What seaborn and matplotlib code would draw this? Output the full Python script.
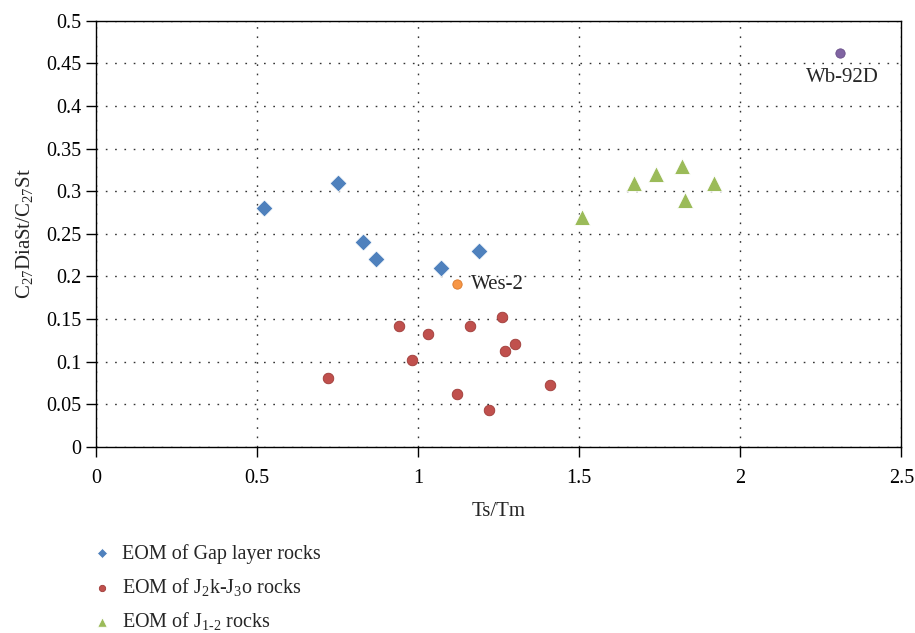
import matplotlib
matplotlib.use("Agg")
import matplotlib.pyplot as plt
import seaborn as sns
import pandas as pd

gap_x = [0.52, 0.75, 0.83, 0.87, 1.07, 1.19]
gap_y = [0.28, 0.31, 0.24, 0.221, 0.21, 0.23]
j2k_x = [0.72, 0.94, 0.98, 1.03, 1.12, 1.16, 1.22, 1.26, 1.27, 1.30, 1.41]
j2k_y = [0.081, 0.142, 0.102, 0.132, 0.062, 0.142, 0.043, 0.153, 0.113, 0.121, 0.073]
j12_x = [1.51, 1.67, 1.74, 1.82, 1.83, 1.92]
j12_y = [0.27, 0.31, 0.32, 0.33, 0.29, 0.31]
wes_x, wes_y = [1.12], [0.191]
wb_x, wb_y = [2.31], [0.462]

groups = ["EOM of Gap layer rocks",
          r"EOM of J$_{\mathregular{2}}$k-J$_{\mathregular{3}}$o rocks",
          r"EOM of J$_{\mathregular{1\text{-}2}}$ rocks"]

sns.set_theme(style="white")
plt.rcParams['font.family'] = ['Liberation Serif', 'DejaVu Serif']
plt.rcParams['mathtext.fontset'] = 'custom'
plt.rcParams['mathtext.rm'] = 'Liberation Serif'
plt.rcParams['mathtext.it'] = 'Liberation Serif:italic'

df = pd.DataFrame({
    "x": gap_x + j2k_x + j12_x,
    "y": gap_y + j2k_y + j12_y,
    "g": [groups[0]] * len(gap_x) + [groups[1]] * len(j2k_x) + [groups[2]] * len(j12_x),
})

fig = plt.figure(figsize=(9.15, 6.33), dpi=100)
ax = fig.add_axes([0.105, 0.294, 0.88, 0.673])

palette = {groups[0]: "#4F81BD", groups[1]: "#C0504D", groups[2]: "#9BBB59"}
markers = {groups[0]: "D", groups[1]: "o", groups[2]: "^"}
sizes = {groups[0]: 75, groups[1]: 58, groups[2]: 130}
for g in groups:
    sub = df[df.g == g]
    sns.scatterplot(data=sub, x="x", y="y", color=palette[g], marker=markers[g],
                    s=sizes[g], edgecolor="#9e3a37" if g == groups[1] else "white",
                    linewidth=0.6, ax=ax, label=g, zorder=3)

sns.scatterplot(x=wes_x, y=wes_y, color="#F79646", s=45, edgecolor="#d9782a",
                linewidth=0.6, ax=ax, legend=False, zorder=3)
sns.scatterplot(x=wb_x, y=wb_y, color="#8064A2", s=45, edgecolor="#6a4f8a",
                linewidth=0.6, ax=ax, legend=False, zorder=3)
ax.text(1.165, 0.191, "Wes-2", fontsize=15, va="center", ha="left")
ax.text(2.205, 0.445, "Wb-92D", fontsize=15, va="top", ha="left")

ax.set_xlim(0, 2.5)
ax.set_ylim(0, 0.5)
ax.set_xticks([0, 0.5, 1, 1.5, 2, 2.5])
ax.set_xticklabels(["0", "0.5", "1", "1.5", "2", "2.5"])
ax.set_yticks([0, 0.05, 0.1, 0.15, 0.2, 0.25, 0.3, 0.35, 0.4, 0.45, 0.5])
ax.set_yticklabels(["0", "0.05", "0.1", "0.15", "0.2", "0.25", "0.3", "0.35", "0.4", "0.45", "0.5"])
ax.grid(True, color="#333333", linestyle=(0, (1.2, 5.5)), linewidth=1.0)
ax.tick_params(axis="both", direction="out", length=7, width=1, colors="black",
               labelsize=14.5, bottom=True, left=True)
ax.tick_params(axis="x", pad=9)
for s in ax.spines.values():
    s.set_color("black")
    s.set_linewidth(1.0)
ax.set_xlabel("Ts/Tm", fontsize=15, labelpad=10)
ax.set_ylabel(r"C$_{\mathregular{27}}$DiaSt/C$_{\mathregular{27}}$St", fontsize=15, labelpad=8)

leg = ax.legend(loc="upper left", bbox_to_anchor=(-0.025, -0.185), frameon=False,
                fontsize=14.5, handletextpad=0.6, handlelength=0.8, labelspacing=0.6,
                markerscale=0.6)

fig.savefig("out.png", dpi=100)
